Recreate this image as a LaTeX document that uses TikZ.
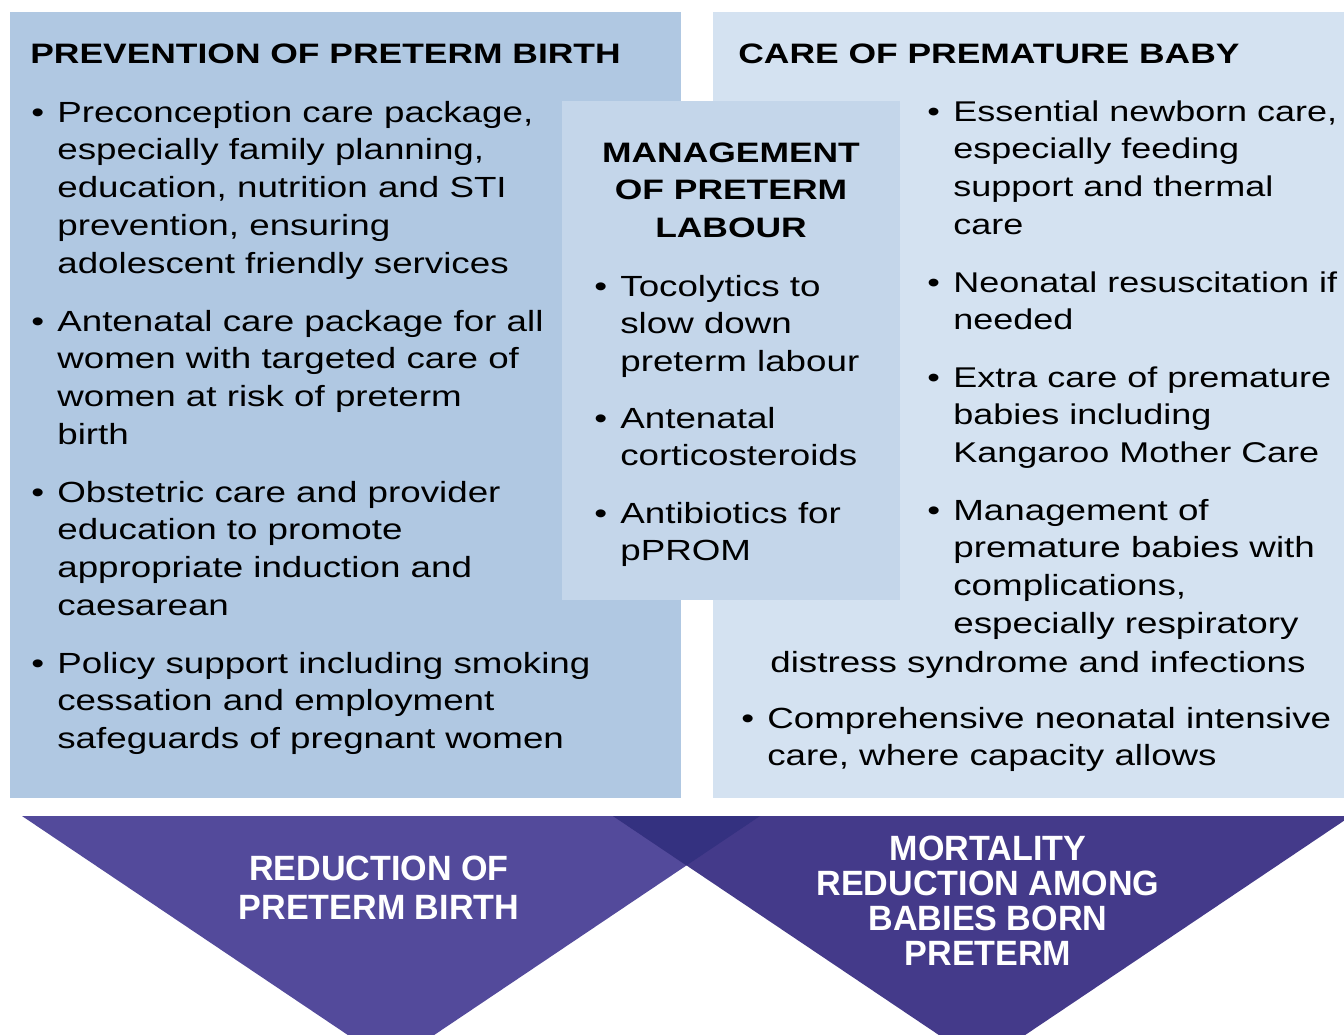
\documentclass[tikz,border=0pt]{standalone}
\usepackage{fontspec}
\setmainfont{Liberation Sans}[FakeStretch=1.26]
\newfontfamily\goalfont{Liberation Sans}[FakeStretch=0.97]

\newcommand{\bitem}[1]{\begin{tabular}[t]{@{}l@{}l@{}}\makebox[0.52cm][l]{\textbullet} & #1\end{tabular}}
\newcommand{\clines}[1]{\begin{tabular}[t]{@{}c@{}}#1\end{tabular}}

\begin{document}
\begin{tikzpicture}[
        x=0.02cm, y=-0.02cm,
        heading/.style={anchor=base west, inner sep=0pt, font=\fontsize{16}{21.6}\selectfont\bfseries},
        item/.style={anchor=base west, inner sep=0pt, font=\fontsize{16.6}{21.6}\selectfont},
        narrow item/.style={item, font=\fontsize{16.25}{21.6}\selectfont},
        goal/.style={anchor=base, inner sep=0pt, text=white, font=\goalfont\bfseries}
    ]

        \definecolor{prevblue}{RGB}{176, 200, 226}
        \definecolor{mgmtblue}{RGB}{196, 214, 234}
        \definecolor{careblue}{RGB}{212, 226, 241}
        \definecolor{leftpurple}{RGB}{83, 74, 155}
        \definecolor{rightpurple}{RGB}{68, 58, 138}
        \definecolor{darkpurple}{RGB}{52, 49, 128}

        \useasboundingbox (0,0) rectangle (1344,1034);
        \clip (0,0) rectangle (1344,1034);

        \fill[prevblue] (10,12) rectangle (681,798);
        \fill[careblue] (713,12) rectangle (1344,798);
        \fill[mgmtblue] (562,101) rectangle (900,600);

        \fill[leftpurple] (22,816) -- (760,816) -- (391,1064) -- cycle;
        \fill[rightpurple] (613,816) -- (1351,816) -- (982,1064) -- cycle;
        \fill[darkpurple] (613,816) -- (760,816) -- (686.5,865.4) -- cycle;

        \node[heading] (prevhead) at (30,64) {PREVENTION OF PRETERM BIRTH};
        \node[heading] (carehead) at (738,64) {CARE OF PREMATURE BABY};
        \node[heading, anchor=base] (mgmthead) at (731,162) {\clines{MANAGEMENT\\ OF PRETERM\\ LABOUR}};

        \node[item] (prev1) at (31,122) {\bitem{Preconception care package,\\ & especially family planning,\\ & education, nutrition and STI\\ & prevention, ensuring\\ & adolescent friendly services}};
        \node[item] (prev2) at (31,331) {\bitem{Antenatal care package for all\\ & women with targeted care of\\ & women at risk of preterm\\ & birth}};
        \node[item] (prev3) at (31,502) {\bitem{Obstetric care and provider\\ & education to promote\\ & appropriate induction and\\ & caesarean}};
        \node[item] (prev4) at (31,673) {\bitem{Policy support including smoking\\ & cessation and employment\\ & safeguards of pregnant women}};

        \node[item] (mgmt1) at (594,296) {\bitem{Tocolytics to\\ & slow down\\ & preterm labour}};
        \node[item] (mgmt2) at (594,428) {\bitem{Antenatal\\ & corticosteroids}};
        \node[item] (mgmt3) at (594,523) {\bitem{Antibiotics for\\ & pPROM}};

        \node[narrow item] (care1) at (927,121) {\bitem{Essential newborn care,\\ & especially feeding\\ & support and thermal\\ & care}};
        \node[narrow item] (care2) at (927,292) {\bitem{Neonatal resuscitation if\\ & needed}};
        \node[narrow item] (care3) at (927,387) {\bitem{Extra care of premature\\ & babies including\\ & Kangaroo Mother Care}};
        \node[item] (care4) at (927,520) {\bitem{Management of\\ & premature babies with\\ & complications,\\ & especially respiratory}};
        \node[item] (care4end) at (770,672) {distress syndrome and infections};
        \node[item] (care5) at (741,728) {\bitem{Comprehensive neonatal intensive\\ & care, where capacity allows}};

        \node[goal] (goalbirth) at (379,880) {\fontsize{20}{22.7}\selectfont\clines{REDUCTION OF\\ PRETERM BIRTH}};
        \node[goal] (goalbaby) at (988,860) {\fontsize{20}{19.9}\selectfont\clines{MORTALITY\\ REDUCTION AMONG\\ BABIES BORN\\ PRETERM}};
    \end{tikzpicture}
\end{document}
